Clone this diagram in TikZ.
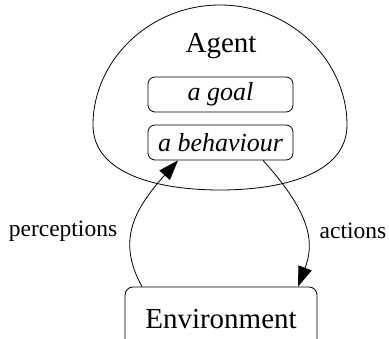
\documentclass[tikz,border=0pt]{standalone}
\usepackage{fontspec}
\setmainfont{Liberation Serif}
\usetikzlibrary{arrows.meta}

\begin{document}
\begin{tikzpicture}[
  x=1pt,y=-1pt,line width=0.8pt,
  bigtext/.style={font=\fontsize{29}{34}\selectfont},
  inbox/.style={draw,rounded corners=7pt,minimum width=145pt,minimum height=35pt,inner sep=0pt,font=\fontsize{26}{30}\selectfont\itshape},
  envbox/.style={draw,rounded corners=8pt,minimum width=192pt,minimum height=64pt,inner sep=0pt,bigtext},
  elabel/.style={font=\fontsize{23.5}{28}\selectfont},
  flow/.style={-{Triangle[length=20pt,width=14pt]}}
]
\useasboundingbox (0,0) rectangle (389,339);
% agent blob
\draw (220,5) .. controls (290,5) and (347,60) .. (347,125)
  .. controls (347,175) and (280,190) .. (220,190)
  .. controls (160,190) and (93,175) .. (93,125)
  .. controls (93,60) and (150,5) .. (220,5);
\node[bigtext] (agent) at (221,46) {Agent};
\node[inbox] (goal) at (220.5,94.5) {a goal};
\node[inbox] (beh) at (220.5,142.5) {a behaviour};
\node[envbox] (env) at (221,319) {Environment};
% connectors
\draw[flow] ([xshift=-79pt]env.north) .. controls +(-25,-45) and +(-45,50) .. ([xshift=-42.5pt]beh.south);
\draw[flow] ([xshift=42.5pt]beh.south) .. controls +(50,55) and +(16,-42) .. ([xshift=77pt]env.north);
\node[elabel] (perc) at (63,231) {perceptions};
\node[elabel] (act) at (353,231) {actions};
\end{tikzpicture}
\end{document}
